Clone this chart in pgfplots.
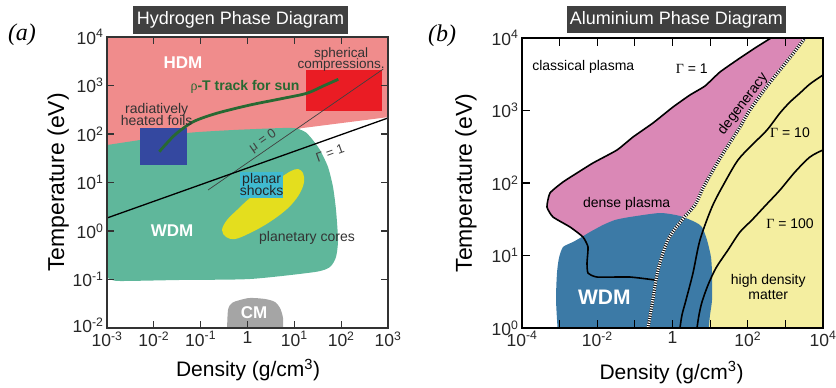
\documentclass[border=0pt]{standalone}
\usepackage{fontspec}
\setmainfont{Liberation Sans}
\newfontfamily\serif{Liberation Serif}
\usepackage{pgfplots}
\pgfplotsset{compat=1.18}
\definecolor{hdm}{RGB}{240,140,140}
\definecolor{wdmA}{RGB}{95,183,155}
\definecolor{foil}{RGB}{52,72,160}
\definecolor{sph}{RGB}{234,28,36}
\definecolor{shock}{RGB}{64,186,208}
\definecolor{core}{RGB}{228,222,30}
\definecolor{cmgray}{RGB}{165,165,165}
\definecolor{track}{RGB}{40,105,50}
\definecolor{plasB}{RGB}{218,136,182}
\definecolor{wdmB}{RGB}{60,122,166}
\definecolor{hdB}{RGB}{244,238,160}
\definecolor{titlebg}{RGB}{64,64,64}
\newcommand{\tp}[1]{10\textsuperscript{#1}}
\newcommand{\fs}[1]{\fontsize{#1}{#1}\selectfont}
\begin{document}
\begin{tikzpicture}
\path[use as bounding box] (0pt,0pt) rectangle (836pt,388pt);
% ---------------- panel (a) ----------------
\begin{axis}[
  at={(107pt,60pt)}, anchor=south west,
  scale only axis, width=281pt, height=291pt,
  xmin=-3, xmax=3, ymin=-2, ymax=4,
  axis on top,
  axis line style={line width=1.6pt, black!80},
  major tick style={line width=1.2pt, black!80},
  major tick length=7pt,
  tick align=inside,
  xtick={-3,-2,-1,0,1,2,3},
  xticklabels={\tp{-3},\tp{-2},\tp{-1},1,\tp{1},\tp{2},\tp{3}},
  ytick={-2,-1,0,1,2,3,4},
  yticklabels={\raisebox{5pt}{\tp{-2}},\tp{-1},\tp{0},\tp{1},\tp{2},\tp{3},\tp{4}},
  tick label style={font=\fs{17.5}, text=black!85},
  xlabel={Density (g/cm\textsuperscript{3})},
  ylabel={Temperature (eV)},
  xlabel style={font=\fs{21}, at={(axis description cs:0.502,-0.144)}, anchor=center},
  ylabel style={font=\fs{23}, at={(axis description cs:-0.174,0.5)}, anchor=center},
]
\addplot[draw=none, fill=hdm] coordinates {(-3.1,4.1) (3.1,4.1) (3.1,2.36) (1.15,2.12) (0.9,2.05) (-3.1,1.65)} -- cycle;
\addplot[draw=none, fill=wdmA, smooth, tension=0.4] coordinates {(-3.1,1.76) (-3,1.773) (-2.295,1.876) (-1.292,2.021) (-0.309,2.082) (0.758,2.124) (1.05,2.115) (1.25,2.03) (1.40,1.87) (1.548,1.670) (1.719,1.320) (1.826,0.907) (1.890,0.433) (1.933,-0.186) (1.890,-0.536) (1.762,-0.742) (1.442,-0.845) (0.054,-0.990) (-1.441,-1.010) (-2.722,-1.031) (-2.936,-0.990) (-3.1,-0.9)} -- cycle;
\addplot[draw=none, fill=foil] coordinates {(-2.295,1.371) (-1.292,1.371) (-1.292,2.124) (-2.295,2.124)} -- cycle;
\addplot[draw=none, fill=sph] coordinates {(1.249,2.474) (2.872,2.474) (2.872,3.320) (1.249,3.320)} -- cycle;
\addplot[draw=none, fill=core, smooth, tension=0.6] coordinates {(0.758,1.134) (0.929,1.237) (1.079,1.278) (1.185,1.196) (1.207,1.010) (1.121,0.784) (0.950,0.557) (0.716,0.351) (0.374,0.124) (0.011,-0.062) (-0.267,-0.165) (-0.459,-0.124) (-0.544,0.021) (-0.438,0.227) (-0.224,0.433) (0.054,0.680) (0.374,0.887) (0.587,1.031)} -- cycle;
\addplot[draw=none, fill=shock] coordinates {(-0.160,0.674) (0.765,0.674) (0.765,1.223) (-0.160,1.223)} -- cycle;
\addplot[draw=none, fill=cmgray, smooth, tension=0.5] coordinates {(-0.438,-2.1) (-0.416,-1.629) (-0.331,-1.485) (-0.160,-1.423) (0.054,-1.381) (0.374,-1.402) (0.587,-1.464) (0.694,-1.588) (0.758,-1.794) (0.758,-2.1)} -- cycle;
\addplot[black!75, line width=0.7pt] coordinates {(-0.843,0.845) (2.9,3.34)};
\addplot[black, line width=1.3pt] coordinates {(-3,0.268) (3,2.330)};
\addplot[track, line width=2.8pt, smooth] coordinates {(-1.883,1.635) (-1.725,1.808) (-1.512,2.014) (-1.157,2.254) (-0.658,2.427) (0.054,2.598) (0.765,2.736) (1.264,2.839) (1.619,2.990) (1.939,3.128)};
\node[text=white, font=\fs{17}\bfseries] at (axis cs:-1.377,3.464) {HDM};
\node[text=black!80, font=\fs{13.5}, align=center, text depth=0pt] at (axis cs:1.997,3.567) {spherical\\[-3pt]compressions.};
\node[text=track, font=\fs{14}\bfseries] at (axis cs:-0.053,2.969) {{\serif\mdseries ρ}-T track for sun};
\node[text=black!80, font=\fs{14}, align=center] at (axis cs:-1.939,2.402) {radiatively\\[-2pt]heated foils};
\node[text=black!85, font=\fs{14}, align=center] at (axis cs:0.303,0.95) {planar\\[-2pt]shocks};
\node[text=white, font=\fs{17}\bfseries] at (axis cs:-1.612,0.0) {WDM};
\node[text=black!80, font=\fs{14}] at (axis cs:1.271,-0.144) {planetary cores};
\node[text=white, font=\fs{17}\bfseries] at (axis cs:0.139,-1.691) {CM};
\node[text=black!75, font=\fs{13}, rotate=34.6] at (axis cs:0.331,1.856) {μ = 0};
\node[text=black!75, font=\fs{13}, rotate=19.6] at (axis cs:1.762,1.608) {Γ = 1};
\end{axis}
% ---------------- panel (b) ----------------
\begin{axis}[
  at={(522pt,60pt)}, anchor=south west,
  scale only axis, width=301pt, height=290pt,
  xmin=-4, xmax=4, ymin=0, ymax=4,
  axis on top,
  axis line style={line width=1.3pt, black},
  major tick style={line width=1.1pt, black},
  major tick length=8pt,
  tick align=inside,
  ytick pos=left,
  xtick={-4,-3,-2,-1,0,1,2,3,4},
  xticklabels={\tp{-4},,\tp{-2},,1,,\tp{2},,\tp{4}},
  ytick={0,1,2,3,4},
  yticklabels={\tp{0},\tp{1},\tp{2},\tp{3},\tp{4}},
  tick label style={font=\fs{17.5}, text=black!85},
  xlabel={Density (g/cm\textsuperscript{3})},
  ylabel={Temperature (eV)},
  xlabel style={font=\fs{21}, at={(axis description cs:0.497,-0.154)}, anchor=center},
  ylabel style={font=\fs{23}, at={(axis description cs:-0.186,0.5)}, anchor=center},
]
\addplot[draw=none, fill=hdB] coordinates {(3.522,4.0) (3.176,3.766) (2.857,3.559) (2.538,3.352) (2.246,3.145) (2.007,2.966) (1.794,2.772) (1.555,2.579) (1.316,2.386) (1.050,2.152) (0.811,1.931) (0.598,1.697) (0.252,1.490) (-0.120,1.214) (-0.385,0.800) (-0.545,0.317) (-0.651,-0.1) (4.1,-0.1) (4.1,4.1) (3.522,4.1)} -- cycle;
\addplot[draw=none, fill=plasB] coordinates {(2.618,4.1) (2.618,4.0) (2.193,3.862) (1.794,3.724) (1.262,3.531) (0.864,3.338) (0.465,3.214) (0.013,3.048) (-0.518,2.828) (-1.050,2.634) (-1.475,2.455) (-2.113,2.276) (-2.538,2.138) (-2.910,2.014) (-3.256,1.862) (-3.336,1.669) (-3.176,1.531) (-2.724,1.393) (-2.379,1.255) (-2.246,1.117) (-2.272,0.897) (-2.246,0.759) (-2.007,0.703) (-1.130,0.703) (-0.465,0.662) (-0.385,0.800) (-0.120,1.214) (0.252,1.490) (0.598,1.697) (0.811,1.931) (1.050,2.152) (1.316,2.386) (1.555,2.579) (1.794,2.772) (2.007,2.966) (2.246,3.145) (2.538,3.352) (2.857,3.559) (3.176,3.766) (3.522,4.0) (3.522,4.1)} -- cycle;
\addplot[draw=none, fill=wdmB, smooth, tension=0.4] coordinates {(-3.043,-0.1) (-3.096,0.386) (-3.070,0.759) (-3.017,0.966) (-2.910,1.117) (-2.644,1.186) (-2.458,1.241) (-2.193,1.324) (-1.847,1.421) (-1.528,1.490) (-1.130,1.531) (-0.332,1.586) (0.199,1.545) (0.598,1.462) (0.784,1.393) (0.917,1.214) (1.023,0.979) (1.050,0.759) (1.050,0.386) (0.997,0.179) (0.944,-0.1)} -- cycle;
\addplot[black, line width=1.6pt, smooth, tension=0.5] coordinates {(4.0,3.490) (3.654,3.366) (3.389,3.241) (3.123,3.117) (2.857,2.966) (2.512,2.731) (2.113,2.524) (1.741,2.317) (1.395,2.014) (1.050,1.669) (0.731,1.214) (0.545,0.759) (0.359,0.386) (0.252,0.179) (0.199,0.0)};
\addplot[black, line width=1.6pt, smooth, tension=0.5] coordinates {(4.0,2.455) (3.654,2.359) (3.256,2.152) (2.857,1.903) (2.485,1.697) (2.113,1.490) (1.794,1.324) (1.475,1.076) (1.156,0.828) (0.944,0.593) (0.784,0.359) (0.704,0.179) (0.651,0.0)};
\addplot[black, line width=1.6pt, smooth, tension=0.3] coordinates {(2.618,4.0) (2.193,3.862) (1.794,3.724) (1.262,3.531) (0.864,3.338) (0.465,3.214) (0.013,3.048) (-0.518,2.828) (-1.050,2.634) (-1.475,2.455) (-2.113,2.276) (-2.538,2.138) (-2.910,2.014) (-3.256,1.862) (-3.336,1.669) (-3.176,1.531) (-2.724,1.393) (-2.379,1.255) (-2.246,1.117) (-2.272,0.897) (-2.246,0.759) (-2.007,0.703) (-1.130,0.703) (-0.465,0.662)};
\addplot[black, line width=3pt, smooth, tension=0.5] coordinates {(3.522,4.0) (3.176,3.766) (2.857,3.559) (2.538,3.352) (2.246,3.145) (2.007,2.966) (1.794,2.772) (1.555,2.579) (1.316,2.386) (1.050,2.152) (0.811,1.931) (0.598,1.697) (0.252,1.490) (-0.120,1.214) (-0.385,0.800) (-0.545,0.317) (-0.651,0.0)};
\addplot[white, line width=3pt, dash pattern=on 1.2pt off 1.2pt, smooth, tension=0.5] coordinates {(3.522,4.0) (3.176,3.766) (2.857,3.559) (2.538,3.352) (2.246,3.145) (2.007,2.966) (1.794,2.772) (1.555,2.579) (1.316,2.386) (1.050,2.152) (0.811,1.931) (0.598,1.697) (0.252,1.490) (-0.120,1.214) (-0.385,0.800) (-0.545,0.317) (-0.651,0.0)};
\node[font=\fs{14}] at (axis cs:-2.371,3.604) {classical plasma};
\node[font=\fs{14}] at (axis cs:0.510,3.572) {{\serif Γ} = 1};
\node[font=\fs{14}, rotate=53] at (axis cs:1.874,3.090) {degeneracy};
\node[font=\fs{14}] at (axis cs:3.123,2.690) {{\serif Γ} = 10};
\node[font=\fs{14}] at (axis cs:-1.217,1.710) {dense plasma};
\node[font=\fs{14}] at (axis cs:3.123,1.444) {{\serif Γ} = 100};
\node[font=\fs{14}, align=center] at (axis cs:2.546,0.570) {high density\\[1pt]matter};
\node[text=white, font=\fs{21}\bfseries] at (axis cs:-1.813,0.423) {WDM};
\end{axis}
% ---------------- titles and panel letters ----------------
\node[fill=titlebg, text=white, minimum width=215pt, minimum height=28pt, inner sep=0pt, font=\fs{18}] at (240.5pt,368pt) {Hydrogen Phase Diagram};
\node[fill=titlebg, text=white, minimum width=219pt, minimum height=27pt, inner sep=0pt, font=\fs{18}] at (676.5pt,368.5pt) {Aluminium Phase Diagram};
\node[font=\fs{24}\serif\itshape] at (22pt,353pt) {(a)};
\node[font=\fs{24}\serif\itshape] at (442pt,352pt) {(b)};
\end{tikzpicture}
\end{document}
